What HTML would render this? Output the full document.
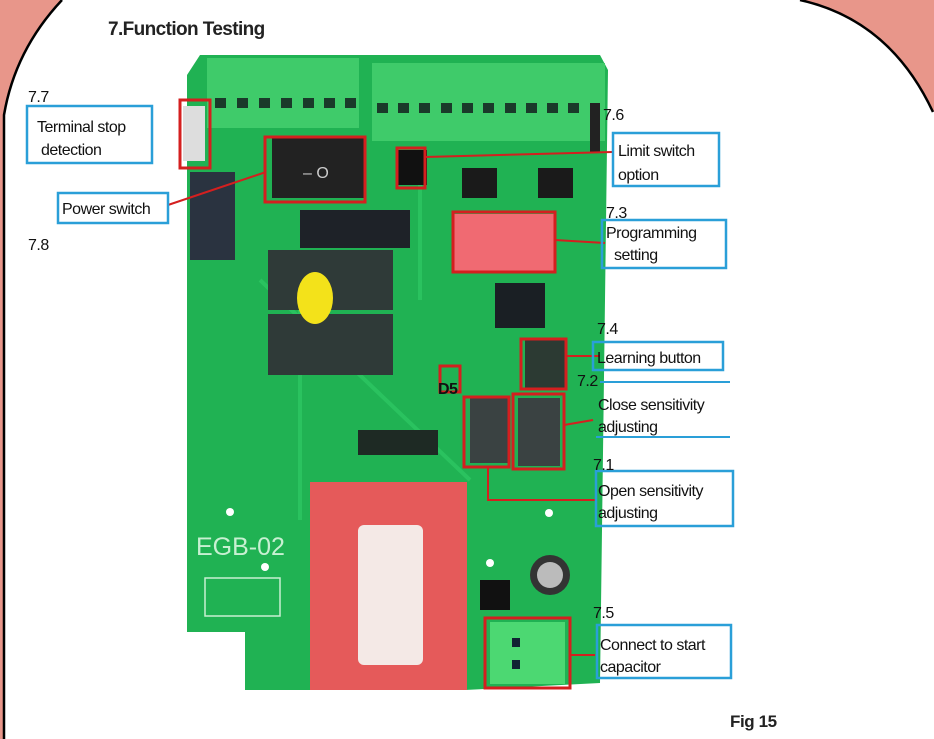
<!DOCTYPE html>
<html><head><meta charset="utf-8"><style>
html,body{margin:0;padding:0;background:#fff;}
svg{display:block}
text{font-family:"Liberation Sans",sans-serif;}
</style></head><body>
<svg width="934" height="739" viewBox="0 0 934 739" xmlns="http://www.w3.org/2000/svg">
<rect width="934" height="739" fill="#fff"/>
<path d="M0 0 L62 0 Q15 50 4 115 L4 739 L0 739 Z" fill="#e8968a"/>
<path d="M62 0 Q15 50 4 115 L4 739" fill="none" stroke="#000" stroke-width="2.5"/>
<path d="M800 0 L934 0 L934 112 Q890 20 800 0 Z" fill="#e8968a"/>
<path d="M800 0 Q890 20 933 112" fill="none" stroke="#000" stroke-width="2.5"/>
<text x="108" y="35" font-size="19" font-weight="bold" fill="#222" letter-spacing="-0.6">7.Function Testing</text>
<!-- PCB -->
<path d="M200 55 L600 55 L608 70 L600 683 L465 690 L310 690 L245 690 L245 632 L187 632 L187 75 Z" fill="#20b253"/>
<path d="M300 300 L300 520 M260 280 L470 480 M420 160 L420 300" stroke="#2ac25f" stroke-width="4" fill="none"/>
<rect x="207" y="58" width="152" height="70" fill="#3fcb6a"/>
<rect x="372" y="63" width="233" height="78" fill="#3fcb6a"/>
<g fill="#1a3a2a">
<rect x="215" y="98" width="11" height="10"/><rect x="237" y="98" width="11" height="10"/><rect x="259" y="98" width="11" height="10"/><rect x="281" y="98" width="11" height="10"/><rect x="303" y="98" width="11" height="10"/><rect x="324" y="98" width="11" height="10"/><rect x="345" y="98" width="11" height="10"/>
<rect x="377" y="103" width="11" height="10"/><rect x="398" y="103" width="11" height="10"/><rect x="419" y="103" width="11" height="10"/><rect x="441" y="103" width="11" height="10"/><rect x="462" y="103" width="11" height="10"/><rect x="483" y="103" width="11" height="10"/><rect x="505" y="103" width="11" height="10"/><rect x="526" y="103" width="11" height="10"/><rect x="547" y="103" width="11" height="10"/><rect x="568" y="103" width="11" height="10"/>
</g>
<rect x="590" y="103" width="10" height="50" fill="#222"/>
<rect x="183" y="106" width="22" height="55" fill="#ddd"/>
<rect x="190" y="172" width="45" height="88" fill="#2a3340"/>
<rect x="272" y="138" width="92" height="60" fill="#222"/>
<text x="303" y="178" font-size="16" fill="#ccc">– O</text>
<rect x="300" y="210" width="110" height="38" fill="#1e2228"/>
<rect x="268" y="250" width="125" height="60" fill="#2f3a38"/>
<rect x="268" y="314" width="125" height="61" fill="#2f3a38"/>
<ellipse cx="315" cy="298" rx="18" ry="26" fill="#f3e21a"/>
<rect x="397" y="150" width="30" height="35" fill="#111"/>
<rect x="462" y="168" width="35" height="30" fill="#1a1a1a"/><rect x="538" y="168" width="35" height="30" fill="#1a1a1a"/>
<rect x="454" y="214" width="100" height="58" fill="#f06a72"/>
<rect x="495" y="283" width="50" height="45" fill="#1a1f24"/>
<rect x="525" y="340" width="40" height="48" fill="#2c3a33"/>
<rect x="470" y="398" width="40" height="65" fill="#3a4242"/><rect x="518" y="398" width="42" height="68" fill="#3a4242"/>
<rect x="358" y="430" width="80" height="25" fill="#1e2a24"/>
<rect x="310" y="482" width="157" height="208" fill="#e55a5a"/>
<rect x="358" y="525" width="65" height="140" rx="6" fill="#f4e9e6"/>
<circle cx="550" cy="575" r="20" fill="#333"/><circle cx="550" cy="575" r="13" fill="#bbb"/>
<rect x="480" y="580" width="30" height="30" fill="#111"/>
<rect x="490" y="622" width="75" height="62" fill="#4cd872"/>
<rect x="512" y="638" width="8" height="9" fill="#123"/><rect x="512" y="660" width="8" height="9" fill="#123"/>
<text x="196" y="555" font-size="25" fill="#c8f0d2" font-family="Liberation Mono">EGB-02</text>
<circle cx="230" cy="512" r="4" fill="#fff"/><circle cx="265" cy="567" r="4" fill="#fff"/><circle cx="549" cy="513" r="4" fill="#fff"/><circle cx="490" cy="563" r="4" fill="#fff"/>
<rect x="205" y="578" width="75" height="38" fill="none" stroke="#c8f0d2" stroke-width="1.5"/>
<g fill="none" stroke="#d41f1f" stroke-width="3">
<rect x="180" y="100" width="30" height="68"/>
<rect x="265" y="137" width="100" height="65"/>
<rect x="397" y="148" width="28" height="40"/>
<rect x="453" y="212" width="102" height="60"/>
<rect x="521" y="339" width="45" height="50"/>
<rect x="440" y="366" width="20" height="26"/>
<rect x="464" y="397" width="45" height="70"/>
<rect x="513" y="394" width="51" height="75"/>
<rect x="485" y="618" width="85" height="70"/>
</g>
<g stroke="#d41f1f" stroke-width="2" fill="none">
<path d="M168 205 L266 172"/><path d="M425 157 L612 152"/><path d="M555 240 L605 243"/><path d="M566 356 L600 356"/><path d="M564 425 L593 420"/><path d="M488 467 L488 500 L595 500"/><path d="M570 655 L595 655"/>
</g>
<g fill="none" stroke="#2a9fd8" stroke-width="2.5">
<rect x="27" y="106" width="125" height="57"/>
<rect x="58" y="193" width="110" height="30"/>
<rect x="613" y="133" width="106" height="53"/>
<rect x="602" y="220" width="124" height="48"/>
<rect x="593" y="342" width="130" height="28"/>
<rect x="596" y="471" width="137" height="55"/>
<rect x="597" y="625" width="134" height="53"/>
</g>
<path d="M600 382 L730 382 M596 437 L730 437" stroke="#2a9fd8" stroke-width="2"/>
<g font-size="16" fill="#111" letter-spacing="-0.5">
<text x="28" y="102">7.7</text>
<text x="37" y="132">Terminal stop</text><text x="41" y="155">detection</text>
<text x="62" y="214">Power switch</text>
<text x="28" y="250">7.8</text>
<text x="603" y="120">7.6</text>
<text x="618" y="156">Limit switch</text><text x="618" y="180">option</text>
<text x="606" y="218">7.3</text>
<text x="606" y="238">Programming</text><text x="614" y="260">setting</text>
<text x="597" y="334">7.4</text>
<text x="597" y="363">Learning button</text>
<text x="577" y="386">7.2</text>
<text x="598" y="410">Close sensitivity</text><text x="598" y="432">adjusting</text>
<text x="593" y="470">7.1</text>
<text x="598" y="496">Open sensitivity</text><text x="598" y="518">adjusting</text>
<text x="593" y="618">7.5</text>
<text x="600" y="650">Connect to start</text><text x="600" y="672">capacitor</text>
<text x="438" y="394" font-weight="bold">D5</text>
</g>
<text x="730" y="727" font-size="17" font-weight="bold" fill="#222" letter-spacing="-0.4">Fig 15</text>
</svg>
</body></html>
